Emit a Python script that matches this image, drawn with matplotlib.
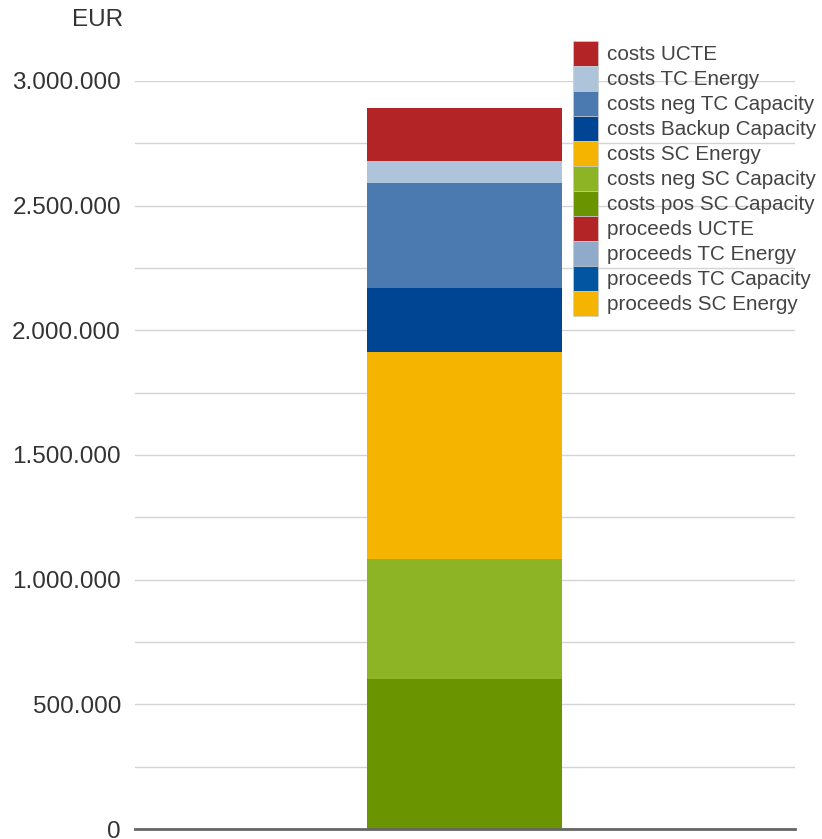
import matplotlib
matplotlib.use("Agg")
import matplotlib.pyplot as plt
from matplotlib.ticker import FuncFormatter, MultipleLocator

plt.rcParams['font.family'] = ['Liberation Sans', 'DejaVu Sans']

# stack from bottom to top
series = [
    "proceeds SC Energy",
    "proceeds TC Capacity",
    "proceeds TC Energy",
    "proceeds UCTE",
    "costs pos SC Capacity",
    "costs neg SC Capacity",
    "costs SC Energy",
    "costs Backup Capacity",
    "costs neg TC Capacity",
    "costs TC Energy",
    "costs UCTE",
]
values = [0, 0, 0, 0, 601000, 483000, 830000, 257000, 421000, 88000, 213000]
colors = ["#F4B400", "#0255A0", "#8FAACB", "#B22425",
          "#6B9500", "#8DB424", "#F4B400", "#004494", "#4A7AB0", "#AEC4DB", "#B22425"]


def fmt(v, pos):
    return f"{int(v):,}".replace(",", ".")


fig = plt.figure(figsize=(8.22, 8.39), dpi=100)
ax = fig.add_axes([0.164, 0.0119, 0.803, 0.8916])

handles = []
bottom = 0
for name, v, c in zip(series, values, colors):
    b = ax.bar(0, v, width=0.295, bottom=bottom, color=c, label=name, zorder=3)
    handles.append(b)
    bottom += v

ax.set_xlim(-0.5, 0.5)
ax.set_ylim(0, 3000000)
ax.yaxis.set_major_locator(MultipleLocator(500000))
ax.yaxis.set_minor_locator(MultipleLocator(250000))
ax.yaxis.set_major_formatter(FuncFormatter(fmt))
ax.grid(axis="y", which="both", color="#d4d4d4", linewidth=1, zorder=0)
ax.set_xticks([])
ax.tick_params(axis="y", which="both", length=0, labelsize=17.5, labelcolor="#333333", pad=10)
for s in ["left", "right", "top"]:
    ax.spines[s].set_visible(False)
ax.spines["bottom"].set_color("#666666")
ax.spines["bottom"].set_linewidth(2)
ax.spines["bottom"].set_zorder(4)

fig.text(0.119, 0.976, "EUR", fontsize=17.5, color="#333333", ha="center", va="center")

leg = fig.legend(handles[::-1], series[::-1], loc="upper left",
                 bbox_to_anchor=(0.697, 0.951), frameon=False, fontsize=14.9,
                 borderpad=0, borderaxespad=0, labelspacing=0,
                 handlelength=1.21, handleheight=1.48, handletextpad=0.42,
                 labelcolor="#444444")
for p in leg.get_patches():
    p.set_edgecolor("#cccccc")
    p.set_linewidth(0.5)

plt.savefig("out.png", dpi=100)
